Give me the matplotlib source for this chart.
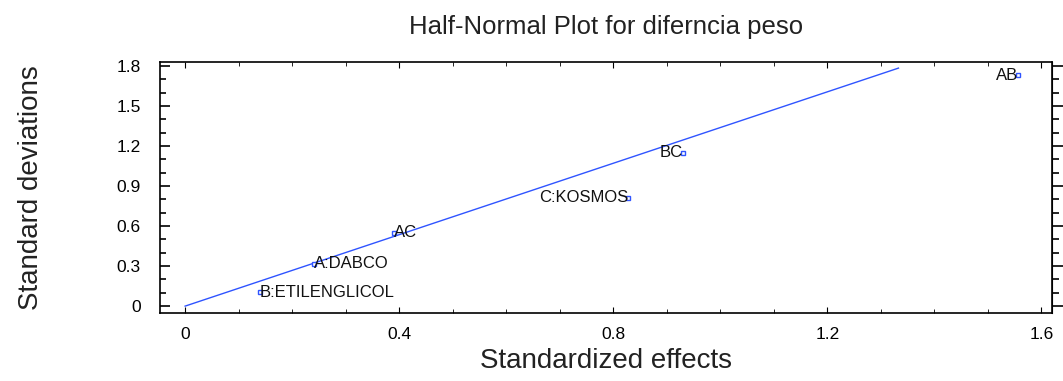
import matplotlib.pyplot as plt
from matplotlib.ticker import MultipleLocator

plt.rcParams['font.family'] = ['Liberation Sans', 'DejaVu Sans']

# half-normal plot data
effects = ['B:ETILENGLICOL', 'A:DABCO', 'AC', 'C:KOSMOS', 'BC', 'AB']
std_effects = [0.14, 0.241, 0.39, 0.828, 0.93, 1.557]
std_devs = [0.105, 0.319, 0.549, 0.812, 1.150, 1.732]
label_side = ['left', 'left', 'left', 'right', 'right', 'right']

line_x = [0, 1.333]
line_y = [0, 1.785]

blue = '#2f54ff'

fig = plt.figure(figsize=(10.63, 3.81), dpi=100)
ax = fig.add_axes([0.1505, 0.178, 0.8392, 0.659])

ax.plot(line_x, line_y, color=blue, lw=1.0)
ax.plot(std_effects, std_devs, 's', ms=3.5, mfc='white', mec=blue, mew=1.0, ls='none')

for name, x, y, side in zip(effects, std_effects, std_devs, label_side):
    ax.text(x, y, name, ha=side, va='center', fontsize=12, color='#111111')

ax.set_xlim(-0.047, 1.62)
ax.set_ylim(-0.053, 1.83)
ax.xaxis.set_major_locator(MultipleLocator(0.4))
ax.xaxis.set_minor_locator(MultipleLocator(0.1))
ax.yaxis.set_major_locator(MultipleLocator(0.3))
ax.yaxis.set_minor_locator(MultipleLocator(0.1))
ax.xaxis.set_major_formatter(plt.FuncFormatter(lambda v, p: '%g' % round(v, 1)))
ax.yaxis.set_major_formatter(plt.FuncFormatter(lambda v, p: '%g' % round(v, 1)))

ax.tick_params(axis='x', which='both', direction='in', top=True, labelsize=12.5, pad=10)
ax.tick_params(axis='x', which='major', length=4)
ax.tick_params(axis='x', which='minor', length=3)
ax.tick_params(axis='y', which='both', direction='in', labelsize=12.5, pad=14)
ax.tick_params(axis='y', which='major', length=7, width=1.2)
ax.tick_params(axis='y', which='minor', length=4, width=1.2)

# right axis has its ticks pointing out
ax2 = ax.secondary_yaxis('right')
ax2.yaxis.set_major_locator(MultipleLocator(0.3))
ax2.yaxis.set_minor_locator(MultipleLocator(0.1))
ax2.tick_params(which='both', direction='out', labelright=False, width=1.2)
ax2.tick_params(which='major', length=12)
ax2.tick_params(which='minor', length=5)

for s in ax.spines.values():
    s.set_linewidth(1.2)

ax.set_title('Half-Normal Plot for diferncia peso', fontsize=18.5, pad=20, color='#222222')
ax.set_xlabel('Standardized effects', fontsize=20, labelpad=4, color='#222222')
ax.set_ylabel('Standard deviations', fontsize=20, labelpad=52, color='#222222')

fig.savefig('out.png', dpi=100)
